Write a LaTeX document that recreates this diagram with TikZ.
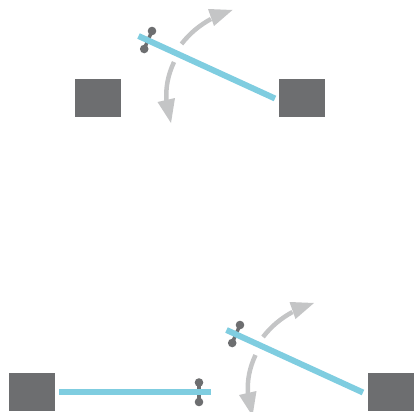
\documentclass[tikz,border=0pt]{standalone}
\usepackage{tikz}
\usetikzlibrary{calc}
\definecolor{postgray}{HTML}{6D6E70}
\definecolor{gatecyan}{HTML}{7FCDE0}
\definecolor{swinggray}{HTML}{C4C5C6}
\tikzset{
  post/.style={fill=postgray},
  gate/.style={draw=gatecyan,line width=0.6cm},
  hingelink/.style={draw=postgray,line width=0.35cm},
  hingeball/.style={fill=postgray},
  swing/.style={draw=swinggray,line width=0.45cm},
  swinghead/.style={fill=swinggray}
}
\begin{document}
\begin{tikzpicture}[x=0.1cm,y=-0.1cm]
\useasboundingbox (0,0) rectangle (414,412);
% posts
\foreach \x/\y in {75/79,279/79,9/373,368/373}
  \fill[post] (\x,\y) rectangle ++(46,38);
% open leaf, top and bottom
\foreach \dx/\dy in {0/0,88/294}{
\begin{scope}[shift={(\dx,\dy)}]
\draw[hingelink] (152,31) coordinate(P) -- (144.2,49) coordinate(Q);
\fill[hingeball] (P) circle (4.3);
\fill[hingeball] (Q) circle (4.3);
\draw[gate] (138.5,36) -- (275,98.5);
\end{scope}
}
% swing arrows
\foreach \dx/\dy in {0/0,81.5/293}{
\begin{scope}[shift={(\dx,\dy)}]
\draw[swing] (181.5,44) .. controls (190,33) and (200,25) .. (211,19);
\fill[swinghead] (208,9) -- (232.5,10) -- (214,26) -- cycle;
\draw[swing] (174,62) .. controls (168,75) and (165.5,87) .. (166.5,101);
\fill[swinghead] (157.5,102) -- (175,98) -- (171,123) -- cycle;
\end{scope}
}
% closed leaf
\draw[hingelink] (199,382.5) coordinate(R) -- (199,402) coordinate(S);
\fill[hingeball] (R) circle (4.3);
\fill[hingeball] (S) circle (4.3);
\draw[gate] (59,392) -- (211,392);
\end{tikzpicture}
\end{document}
